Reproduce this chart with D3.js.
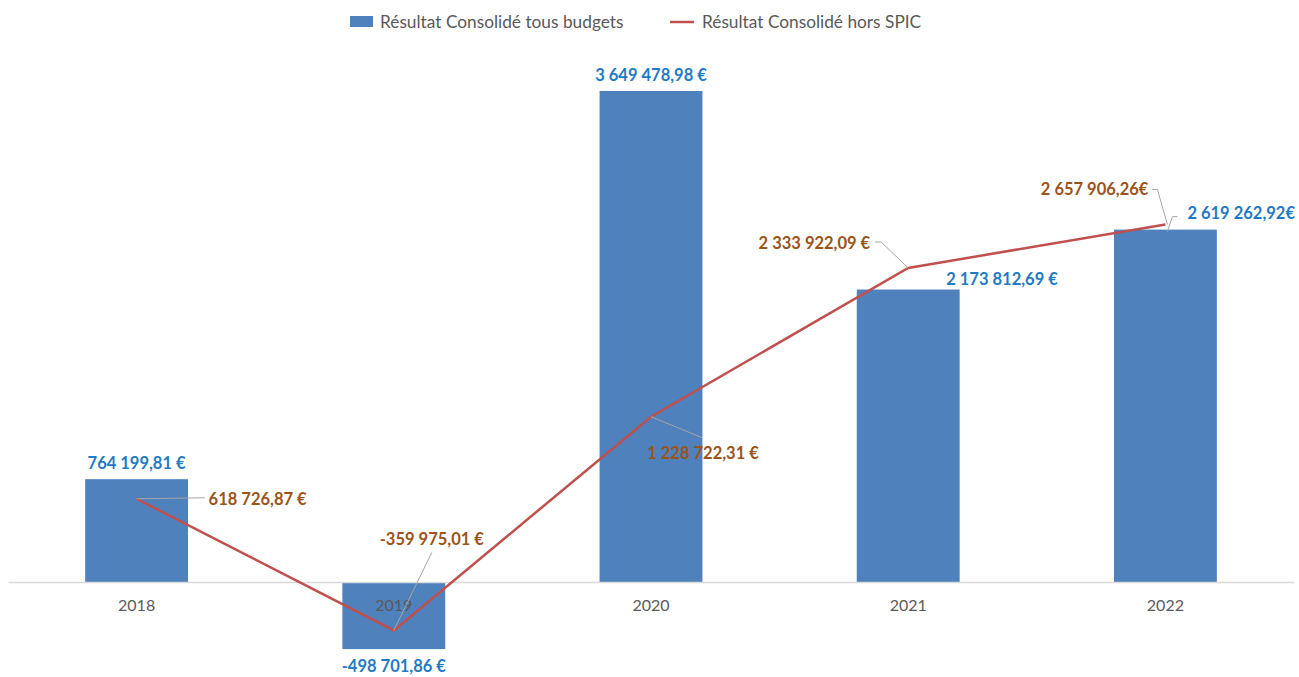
<!DOCTYPE html>
<html>
<head>
<meta charset="utf-8">
<script src="https://cdn.jsdelivr.net/npm/d3@7"></script>
<style>
  body { margin: 0; background: #fff; }
  text { font-family: Lato, "Open Sans", sans-serif; }
</style>
</head>
<body>
<div id="chart"></div>
<script>
// data
const years = ['2018', '2019', '2020', '2021', '2022'];
const tousBudgets = [764199.81, -498701.86, 3649478.98, 2173812.69, 2619262.92];
const horsSpic = [618726.87, -359975.01, 1228722.31, 2333922.09, 2657906.26];
const euroGapBudgets = [' ', ' ', ' ', ' ', ''];
const euroGapSpic = [' ', ' ', ' ', ' ', ''];
const seriesNames = ['Résultat Consolidé tous budgets', 'Résultat Consolidé hors SPIC'];

const [svgWidth, svgHeight] = [1299, 677];
const barColor = '#4f81bd', lineColor = '#c0504d';
const blueText = '#1f7ac4', brownText = '#9c5318';

const loc = d3.formatLocale({ decimal: ',', thousands: ' ', grouping: [3], currency: ['', '€'], minus: '-' });
const fmt = loc.format(',.2f');

function translate(x, y) {
    return 'translate(' + x + ',' + y + ')';
}

let svg = d3.select('#chart').append('svg')
    .attr('width', svgWidth)
    .attr('height', svgHeight);

let xScale = d3.scaleBand().domain(years).range([8, 1294]).padding(0);
const k = 491 / 3649478.98;
let yScale = d3.scaleLinear().domain([-600000, 4000000]).range([582 + 600000 * k, 582 - 4000000 * k]);
const cx = d => xScale(d) + xScale.bandwidth() / 2;
const barW = xScale.bandwidth() * 0.4;

// legend
let legend = svg.append('g').attr('class', 'legend').attr('font-size', 17.3).attr('fill', '#595959');
legend.append('rect').attr('x', 350).attr('y', 16).attr('width', 23).attr('height', 11).attr('fill', barColor);
legend.append('text').attr('x', 380).attr('y', 28).text(seriesNames[0]);
legend.append('line').attr('x1', 670).attr('x2', 694).attr('y1', 22).attr('y2', 22)
    .attr('stroke', lineColor).attr('stroke-width', 2.5);
legend.append('text').attr('x', 702).attr('y', 28).text(seriesNames[1]);

// baseline axis
let xAxis = svg.append('g').attr('transform', translate(0, yScale(0)))
    .call(d3.axisBottom(xScale).tickSize(0).tickPadding(18));
xAxis.select('.domain').attr('stroke', '#d9d9d9').attr('stroke-width', 1.5);

// bars
svg.append('g').selectAll('rect')
    .data(years)
    .join('rect')
    .attr('x', d => cx(d) - barW / 2)
    .attr('width', barW)
    .attr('y', (d, i) => yScale(Math.max(0, tousBudgets[i])))
    .attr('height', (d, i) => Math.abs(yScale(tousBudgets[i]) - yScale(0)))
    .attr('fill', barColor);

// tick labels above bars
xAxis.raise();
xAxis.selectAll('text').attr('font-size', 16).attr('fill', '#595959')
    .style('font-family', 'Lato, "Open Sans", sans-serif');

// line
let line = d3.line()
    .x((d, i) => cx(years[i]))
    .y(d => yScale(d));
svg.append('path')
    .datum(horsSpic)
    .attr('d', line)
    .attr('fill', 'none')
    .attr('stroke', lineColor)
    .attr('stroke-width', 2.5);

// leader lines (offsets relative to point)
const leaderColor = '#a6a6a6';
const spicLeaders = [
    [[0, 0], [68, -1]],
    [[0, 0], [38, -78]],
    [[0, 0], [51, 21]],
    [[0, 0], [-27, -26], [-33, -26]],
    [[2, 0], [-8, -35], [-13, -35]]
];
const budgetLeaders = [null, null, null, null, [[2, 2], [7, -13], [12, -13]]];
let leaders = svg.append('g').attr('fill', 'none').attr('stroke', leaderColor).attr('stroke-width', 1);
spicLeaders.forEach((pts, i) => {
    const x0 = cx(years[i]), y0 = yScale(horsSpic[i]);
    leaders.append('path').attr('d', d3.line()(pts.map(p => [x0 + p[0], y0 + p[1]])));
});
budgetLeaders.forEach((pts, i) => {
    if (!pts) return;
    const x0 = cx(years[i]), y0 = yScale(tousBudgets[i]);
    leaders.append('path').attr('d', d3.line()(pts.map(p => [x0 + p[0], y0 + p[1]])));
});

// data labels: [dx, dy, anchor] relative to the point
const budgetLabelPos = [[0, -10, 'middle'], [0, 23, 'middle'], [0, -10, 'middle'], [38, -5, 'start'], [22, -11, 'start']];
const spicLabelPos = [[72, 6, 'start'], [38, -85, 'middle'], [52, 42, 'middle'], [-38, -19, 'end'], [-17, -29, 'end']];

let labels = svg.append('g').attr('font-size', 16.5).attr('font-weight', 'bold');
years.forEach((yr, i) => {
    const x0 = cx(yr);
    const b = budgetLabelPos[i];
    labels.append('text')
        .attr('x', x0 + b[0])
        .attr('y', yScale(tousBudgets[i]) + b[1])
        .attr('text-anchor', b[2])
        .attr('fill', blueText)
        .text(fmt(tousBudgets[i]) + euroGapBudgets[i] + '€');
    const s = spicLabelPos[i];
    labels.append('text')
        .attr('x', x0 + s[0])
        .attr('y', yScale(horsSpic[i]) + s[1])
        .attr('text-anchor', s[2])
        .attr('fill', brownText)
        .text(fmt(horsSpic[i]) + euroGapSpic[i] + '€');
});
</script>
</body>
</html>
